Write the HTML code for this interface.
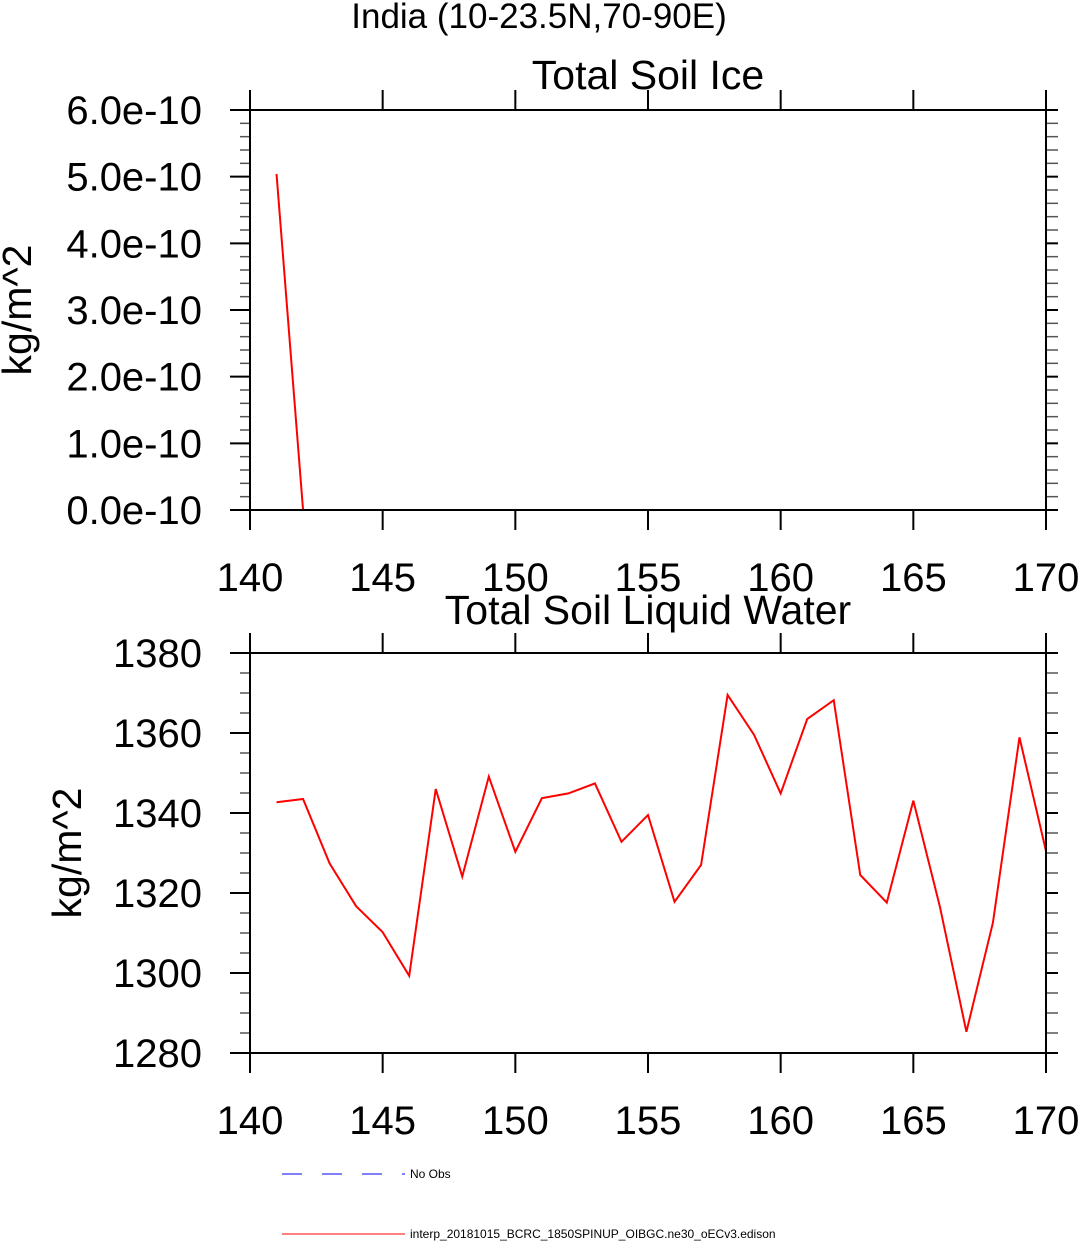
<!DOCTYPE html>
<html><head><meta charset="utf-8"><style>
body{margin:0;background:#fff}
svg text{font-family:"Liberation Sans",sans-serif}
</style></head><body>
<svg id="c" width="1078" height="1241" xmlns="http://www.w3.org/2000/svg">
<text x="539" y="28" font-size="35" text-anchor="middle">India (10-23.5N,70-90E)</text>
<g id="p1"></g>
<g id="p2"></g>
<g>
<line x1="282" y1="1174" x2="405" y2="1174" stroke="#00f" stroke-width="1" stroke-dasharray="20,20"/>
<text x="410" y="1178" font-size="12">No Obs</text>
<line x1="282" y1="1234" x2="405" y2="1234" stroke="#f00" stroke-width="1"/>
<text x="410" y="1238" font-size="12">interp_20181015_BCRC_1850SPINUP_OIBGC.ne30_oECv3.edison</text>
</g>
</svg>
<script>
const years=[141,142,143,144,145,146,147,148,149,150,151,152,153,154,155,156,157,158,159,160,161,162,163,164,165,166,167,168,169,170];
const iceVals=[5.04e-10,0,0,0,0,0,0,0,0,0,0,0,0,0,0,0,0,0,0,0,0,0,0,0,0,0,0,0,0,0];
const liqVals=[1342.7,1343.5,1327.4,1316.7,1310.2,1299.3,1346,1324.1,1349.1,1330.3,1343.7,1344.9,1347.4,1332.8,1339.5,1317.8,1327,1369.5,1359.5,1344.9,1363.5,1368.2,1324.5,1317.6,1343.1,1316.6,1285.3,1312.6,1358.9,1330.5];
const xTicks=[140,145,150,155,160,165,170];
const iceTicks=[0,1e-10,2e-10,3e-10,4e-10,5e-10,6e-10];
const iceLabels=["0.0e-10","1.0e-10","2.0e-10","3.0e-10","4.0e-10","5.0e-10","6.0e-10"];
const liqTicks=[1280,1300,1320,1340,1360,1380];
const liqLabels=["1280","1300","1320","1340","1360","1380"];
const NS="http://www.w3.org/2000/svg";
function mk(p,t,a,txt){const e=document.createElementNS(NS,t);for(const k in a)e.setAttribute(k,a[k]);if(txt!==undefined)e.textContent=txt;p.appendChild(e);return e;}
function panel(g,top,ymin,ymax,yt,yl,vals,title,ytitleX,titleY,nminor){
 const L=250,R=1046,T=top,B=top+400;
 const sx=v=>L+(v-140)/30*(R-L), sy=v=>B-(v-ymin)/(ymax-ymin)*(B-T);
 const step=yt[1]-yt[0];
 const pts=years.map((yr,i)=>sx(yr)+','+sy(vals[i])).join(' ');
 const pl=mk(g,'polyline',{points:pts,fill:'none',stroke:'#f00','stroke-width':2});
 
 
 for(let i=0;i<yt.length-1;i++)for(let j=1;j<nminor;j++){const y=sy(yt[i]+step*j/nminor);
  let l=mk(g,'line',{x1:240,y1:y,x2:L,y2:y,stroke:'#555','stroke-width':1.5});
  
  
  l=mk(g,'line',{x1:R,y1:y,x2:R+12,y2:y,stroke:'#555','stroke-width':1.5});
  
  }
 yt.forEach((v,i)=>{const y=sy(v);
  let l=mk(g,'line',{x1:230,y1:y,x2:L,y2:y,stroke:'#000','stroke-width':2});
  
  
  l=mk(g,'line',{x1:R,y1:y,x2:R+12,y2:y,stroke:'#000','stroke-width':2});
  
  
  const t=mk(g,'text',{x:202,y:y+14,'font-size':40,'text-anchor':'end'},yl[i]);
  
  });
 xTicks.forEach(v=>{const x=sx(v);
  let l=mk(g,'line',{x1:x,y1:T-20,x2:x,y2:T,stroke:'#000','stroke-width':2});
  
  
  l=mk(g,'line',{x1:x,y1:B,x2:x,y2:B+20,stroke:'#000','stroke-width':2});
  
  
  const t=mk(g,'text',{x:x,y:B+81,'font-size':40,'text-anchor':'middle'},String(v));
  
  });
 const r=mk(g,'rect',{x:L,y:T,width:R-L,height:B-T,fill:'none',stroke:'#000','stroke-width':2});
 
 
 const tt=mk(g,'text',{x:648,y:titleY,'font-size':41,'text-anchor':'middle'},title);
 
 
 const yy=(T+B)/2;
 const yt2=mk(g,'text',{x:ytitleX,y:yy,'font-size':41,'text-anchor':'middle',transform:`rotate(-90 ${ytitleX} ${yy})`},'kg/m^2');
 
 
}
panel(document.getElementById('p1'),110,0,6e-10,iceTicks,iceLabels,iceVals,'Total Soil Ice',31,89,5);
panel(document.getElementById('p2'),653,1280,1380,liqTicks,liqLabels,liqVals,'Total Soil Liquid Water',81,624,4);
</script>
</body></html>
